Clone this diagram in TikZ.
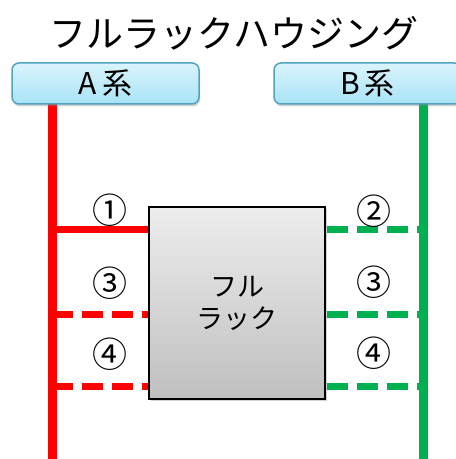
\documentclass[tikz,border=0pt]{standalone}
\usepackage{fontspec}
\setmainfont{Noto Sans CJK JP}
\usepackage{tikz}
\usetikzlibrary{shadows}
\definecolor{lineA}{HTML}{FF0000}
\definecolor{lineB}{HTML}{00B050}
\definecolor{sysborder}{HTML}{4FA3BE}
\definecolor{systop}{HTML}{DAF4FC}
\definecolor{sysbottom}{HTML}{A8E3F6}

\begin{document}
\begin{tikzpicture}[x=1pt,y=1pt]
  \tikzstyle{system}=[rectangle, rounded corners=7pt, draw=sysborder, line width=1.5pt,
top color=systop, bottom color=sysbottom, minimum width=187pt, minimum height=41pt,
inner sep=0pt, font=\fontsize{30}{32}\selectfont,
drop shadow={shadow xshift=1pt, shadow yshift=-2.5pt, opacity=0.35}]
  \tikzstyle{rackbox}=[rectangle, draw=black, line width=1.5pt, top color=black!7,
bottom color=black!25, minimum width=176pt, minimum height=192pt, align=center,
font=\fontsize{27}{32}\selectfont,
drop shadow={shadow xshift=2pt, shadow yshift=-2.5pt, opacity=0.35}]
  \tikzstyle{num}=[inner sep=0pt, font=\fontsize{35}{36}\selectfont]
  \tikzstyle{bus}=[line width=9pt]
  \tikzstyle{link}=[line width=7pt, shorten >=0.75pt]
  \tikzstyle{spare}=[link, dash pattern=on 21pt off 9pt]

  \useasboundingbox (0,0) rectangle (456,459);
  \node (title) at (234,426) {\fontsize{37}{40}\selectfont フルラックハウジング};

  \coordinate (A_top) at (52,360);
  \coordinate (A_bot) at (52,0);
  \coordinate (B_top) at (423,360);
  \coordinate (B_bot) at (423,0);
  \coordinate (A_1) at (52,229);
  \coordinate (A_3) at (52,144);
  \coordinate (A_4) at (52,72);
  \coordinate (B_2) at (423,229);
  \coordinate (B_3) at (423,144);
  \coordinate (B_4) at (423,72);

  \draw [bus, lineA] (A_top) -- (A_bot);
  \draw [bus, lineB] (B_top) -- (B_bot);

  \node[rackbox] (rack) at (237,156) {フル\\ラック};

  \draw [link, lineA] (A_1) -- (A_1 -| rack.west);
  \draw [spare, lineA] (A_3) -- (A_3 -| rack.west);
  \draw [spare, lineA] (A_4) -- (A_4 -| rack.west);
  \draw [spare, lineB, shorten >=0pt, shorten <=0.75pt] (B_2 -| rack.east) -- (B_2);
  \draw [spare, lineB, shorten >=0pt, shorten <=0.75pt] (B_3 -| rack.east) -- (B_3);
  \draw [spare, lineB, shorten >=0pt, shorten <=0.75pt] (B_4 -| rack.east) -- (B_4);

  \node[system] (sys_A) at (105.5,375.5) {A\,系};
  \node[system] (sys_B) at (367.5,375.5) {B\,系};

  \node[num] (n_A1) at (110,249) {①};
  \node[num] (n_A3) at (110,176) {③};
  \node[num] (n_A4) at (110,105) {④};
  \node[num] (n_B2) at (373.5,248) {②};
  \node[num] (n_B3) at (373.5,177) {③};
  \node[num] (n_B4) at (373.5,106) {④};
\end{tikzpicture}
\end{document}
